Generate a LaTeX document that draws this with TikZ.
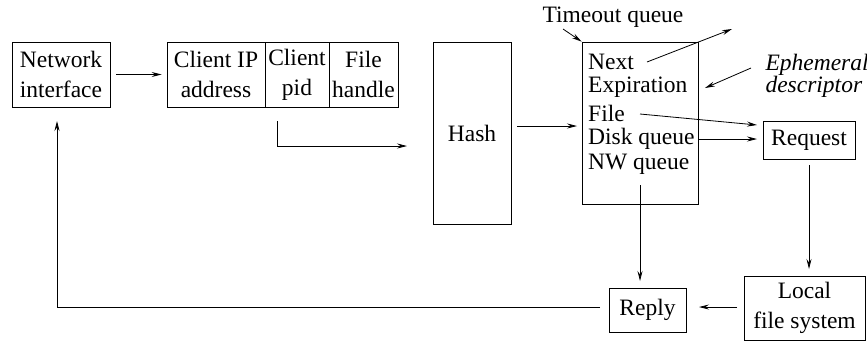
\documentclass[tikz,border=0pt]{standalone}
\usepackage{fontspec}
\setmainfont{Liberation Serif}
\usetikzlibrary{arrows.meta}
\begin{document}
\begin{tikzpicture}[x=1pt,y=-1pt,
  every node/.style={font=\fontsize{23.5}{30}\selectfont},
  box/.style={draw,line width=0.8pt,inner sep=0pt,align=center},
  lbl/.style={inner sep=0pt,anchor=west},
  conn/.style={line width=0.8pt,-{Stealth[length=10pt,width=5pt,inset=3.5pt]}}]
\useasboundingbox (0,0) rectangle (867,341);

% network interface and request header fields
\node[box,minimum width=98pt,minimum height=65pt] (net) at (61,74.5) {Network\\interface};
\node[box,minimum width=98pt,minimum height=65pt] (cip) at (216,74.5) {Client IP\\address};
\node[box,minimum width=64pt,minimum height=65pt] (cpid) at (297,74.5) {Client\\pid};
\node[box,minimum width=69pt,minimum height=65pt] (fh) at (363.5,74.5) {File\\handle};

% hash table
\node[box,minimum width=78pt,minimum height=182pt] (hash) at (472,133) {Hash};

% ephemeral descriptor and its fields
\node[box,minimum width=116pt,minimum height=162pt] (desc) at (640,123) {};
\node[lbl] (lnext) at (588,62) {Next};
\node[lbl] (lexp) at (588,87.5) {Expiration};
\node[lbl] (lfile) at (588,113) {File};
\node[lbl] (ldisk) at (588,138.5) {Disk queue};
\node[lbl] (lnw) at (588,164) {NW queue};

\node (tq) at (613,17) {Timeout queue};
\node[align=left,font=\fontsize{23.5}{20}\itshape\selectfont,anchor=west] (eph) at (762,76) {Ephemeral\\descriptor};

% request path
\node[box,minimum width=92pt,minimum height=38pt] (req) at (809,140) {Request};
\node[box,minimum width=121pt,minimum height=64pt] (lfs) at (804.5,308) {Local\\file system};
\node[box,minimum width=77pt,minimum height=44pt] (reply) at (647.5,310) {Reply};

% connector end points
\coordinate (pidout) at (277,121);
\coordinate (hashin) at (407,146);
\coordinate (hashout) at (517,126);
\coordinate (descin) at (577,126);
\coordinate (nextstart) at (647,62);
\coordinate (nextend) at (732,29);
\coordinate (ephstart) at (751,68);
\coordinate (ephtip) at (705,88);
\coordinate (tqstart) at (563,29);
\coordinate (filestart) at (640,114);
\coordinate (filetip) at (757,125);
\coordinate (diskstart) at (698,139);
\coordinate (disktip) at (757,139);
\coordinate (nwstart) at (640,185);
\coordinate (nwtip) at (640,281);
\coordinate (reqout) at (809,165);
\coordinate (lfsin) at (809,269);
\coordinate (lfsout) at (737,307);
\coordinate (replyin) at (699,307);
\coordinate (replyout) at (600,307);
\coordinate (netin) at (57,121);

% connectors
\draw[conn,shorten <=6pt,shorten >=5pt] (net) -- (cip);
\draw[conn] (pidout) |- (hashin);
\draw[conn] (hashout) -- (descin);
\draw[conn] (nextstart) -- (nextend);
\draw[conn] (ephstart) -- (ephtip);
\draw[conn] (tqstart) -- (desc.north west);
\draw[conn] (filestart) -- (filetip);
\draw[conn] (diskstart) -- (disktip);
\draw[conn] (nwstart) -- (nwtip);
\draw[conn] (reqout) -- (lfsin);
\draw[conn] (lfsout) -- (replyin);
\draw[conn] (replyout) -| (netin);
\end{tikzpicture}
\end{document}
